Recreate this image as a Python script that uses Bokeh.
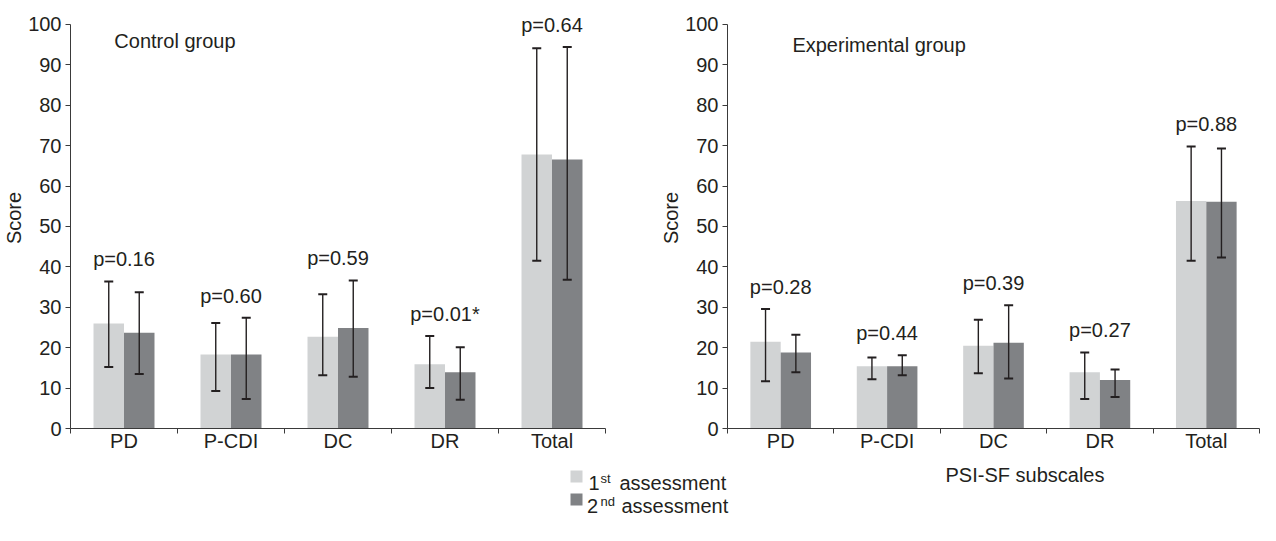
from bokeh.plotting import figure
from bokeh.layouts import column, row
from bokeh.models import ColumnDataSource, Range1d, FixedTicker, Whisker, TeeHead, Label
from bokeh.core.properties import value
from bokeh.embed import file_html
from bokeh.resources import INLINE

# ---------------- data ----------------
subscales = ["PD", "P-CDI", "DC", "DR", "Total"]
y_ticks = [0, 10, 20, 30, 40, 50, 60, 70, 80, 90, 100]

ctrl_first_mean = [26.0, 18.3, 22.7, 15.9, 67.8]
ctrl_first_upper = [36.4, 26.1, 33.2, 22.9, 94.1]
ctrl_first_lower = [15.2, 9.3, 13.2, 10.0, 41.5]
ctrl_second_mean = [23.7, 18.3, 24.9, 13.9, 66.6]
ctrl_second_upper = [33.7, 27.4, 36.6, 20.1, 94.4]
ctrl_second_lower = [13.5, 7.3, 12.8, 7.1, 36.8]
ctrl_p = ["p=0.16", "p=0.60", "p=0.59", "p=0.01*", "p=0.64"]

exp_first_mean = [21.5, 15.4, 20.5, 13.9, 56.3]
exp_first_upper = [29.6, 17.6, 26.9, 18.8, 69.8]
exp_first_lower = [11.7, 12.2, 13.7, 7.3, 41.5]
exp_second_mean = [18.8, 15.4, 21.2, 12.0, 56.1]
exp_second_upper = [23.2, 18.1, 30.5, 14.6, 69.3]
exp_second_lower = [13.9, 13.2, 12.4, 7.8, 42.3]
exp_p = ["p=0.28", "p=0.44", "p=0.39", "p=0.27", "p=0.88"]

legend_labels = [("1", "st", "assessment"), ("2", "nd", "assessment")]
x_axis_title = "PSI-SF subscales"
y_axis_title = "Score"

# ---------------- style ----------------
FONT = "Liberation Sans"
TEXT = "#231f20"
LIGHT = "#d1d3d4"
DARK = "#808285"
AXIS = "#3a3a3a"
FS = "20px"


def panel(title, m1, u1, l1, m2, u2, l2, pvals, frame_w, border_l, border_r, title_x, title_y):
    n = len(subscales)
    p = figure(frame_width=frame_w, frame_height=421,
               x_range=Range1d(0, n), y_range=Range1d(0, 104.2),
               output_backend="svg", toolbar_location=None,
               min_border_left=border_l, min_border_right=border_r,
               min_border_top=7, min_border_bottom=20)
    p.outline_line_color = None
    p.xgrid.visible = False
    p.ygrid.visible = False
    p.background_fill_color = "white"

    centers = [i + 0.5 for i in range(n)]
    off = 0.1425
    s1 = ColumnDataSource(dict(x=[c - off for c in centers], top=m1, upper=u1, lower=l1))
    s2 = ColumnDataSource(dict(x=[c + off for c in centers], top=m2, upper=u2, lower=l2))
    p.vbar(x="x", top="top", width=0.285, source=s1, fill_color=LIGHT, line_color=None)
    p.vbar(x="x", top="top", width=0.285, source=s2, fill_color=DARK, line_color=None)
    for s in (s1, s2):
        p.add_layout(Whisker(base="x", upper="upper", lower="lower", source=s, level="overlay",
                             line_color=TEXT, line_width=1.4,
                             upper_head=TeeHead(size=9, line_color=TEXT, line_width=2),
                             lower_head=TeeHead(size=9, line_color=TEXT, line_width=2)))

    label_y = [max(a, b) + 5.5 for a, b in zip(u1, u2)]
    p.text(x=centers, y=label_y, text=pvals, text_align="center", text_baseline="middle",
           text_font=value(FONT), text_font_size=FS, text_color=TEXT)

    p.add_layout(Label(x=title_x, y=title_y, text=title, text_align="left", text_baseline="middle",
                       text_font=FONT, text_font_size=FS, text_color=TEXT))

    xa = p.xaxis[0]
    xa.ticker = FixedTicker(ticks=centers, minor_ticks=list(range(n + 1)))
    xa.major_label_overrides = {c: s for c, s in zip(centers, subscales)}
    xa.major_tick_out = 0
    xa.major_tick_in = 0
    xa.minor_tick_out = 5
    xa.minor_tick_in = 0
    xa.minor_tick_line_color = AXIS
    xa.axis_line_color = AXIS
    xa.major_label_standoff = -4
    xa.major_label_text_font = FONT
    xa.major_label_text_font_size = FS
    xa.major_label_text_color = TEXT

    ya = p.yaxis[0]
    ya.ticker = FixedTicker(ticks=y_ticks)
    ya.bounds = (0, 100)
    ya.major_tick_out = 5
    ya.major_tick_in = 0
    ya.minor_tick_out = 0
    ya.minor_tick_in = 0
    ya.major_tick_line_color = AXIS
    ya.axis_line_color = AXIS
    ya.major_label_standoff = 4
    ya.major_label_text_font = FONT
    ya.major_label_text_font_size = FS
    ya.major_label_text_color = TEXT
    ya.axis_label = y_axis_title
    ya.axis_label_standoff = 0
    ya.axis_label_text_font = FONT
    ya.axis_label_text_font_size = FS
    ya.axis_label_text_font_style = "normal"
    ya.axis_label_text_color = TEXT
    return p


p1 = panel("Control group", ctrl_first_mean, ctrl_first_upper, ctrl_first_lower,
           ctrl_second_mean, ctrl_second_upper, ctrl_second_lower, ctrl_p,
           frame_w=535, border_l=70, border_r=52, title_x=0.41, title_y=95.9)
p2 = panel("Experimental group", exp_first_mean, exp_first_upper, exp_first_lower,
           exp_second_mean, exp_second_upper, exp_second_lower, exp_p,
           frame_w=532, border_l=70, border_r=1, title_x=0.61, title_y=95.0)

# legend + x axis title strip
LH = 63
leg = figure(width=1260, height=LH, x_range=Range1d(0, 1260), y_range=Range1d(LH, 0),
             x_axis_type=None, y_axis_type=None, output_backend="svg", toolbar_location=None,
             min_border=0, min_border_left=0, min_border_right=0,
             min_border_top=0, min_border_bottom=0)
leg.outline_line_color = None
leg.xgrid.visible = False
leg.ygrid.visible = False

leg.text(x=[945], y=[20], text=[x_axis_title], text_align="left", text_baseline="alphabetic",
         text_font=value(FONT), text_font_size=FS, text_color=TEXT)

baselines = [28, 51]
leg.scatter(x=[576, 576], y=[b - 6 for b in baselines], marker="square", size=12,
            fill_color=[LIGHT, DARK], line_color=None)
leg.text(x=[588, 586.5], y=baselines, text=[l[0] for l in legend_labels], text_align="left",
         text_baseline="alphabetic", text_font=value(FONT), text_font_size=FS, text_color=TEXT)
leg.text(x=[600, 600], y=[b - 4 for b in baselines], text=[l[1] for l in legend_labels],
         text_align="left", text_baseline="alphabetic", text_font=value(FONT),
         text_font_size="13px", text_color=TEXT)
leg.text(x=[619, 621], y=baselines, text=[l[2] for l in legend_labels], text_align="left",
         text_baseline="alphabetic", text_font=value(FONT), text_font_size=FS, text_color=TEXT)

layout = column(row(p1, p2), leg)
open("out.html", "w").write(file_html(layout, INLINE))
